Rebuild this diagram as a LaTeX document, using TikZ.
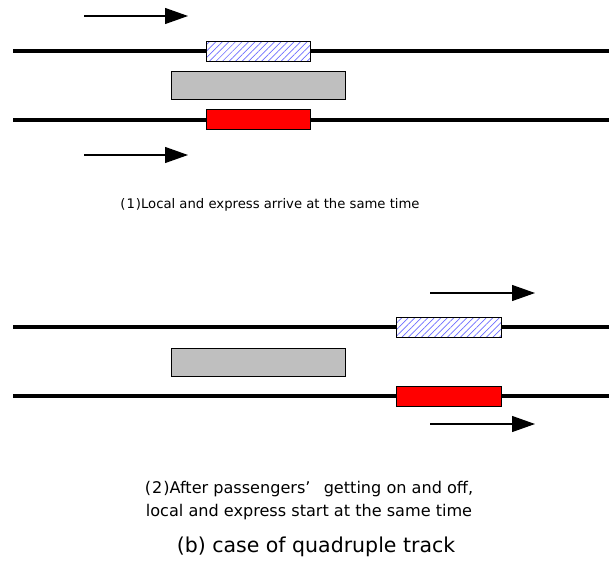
\documentclass[tikz,border=0pt]{standalone}
\usepackage{fontspec}
\setmainfont{DejaVu Sans}
\usetikzlibrary{arrows.meta,patterns.meta}
\definecolor{hatchblue}{RGB}{110,110,255}
\begin{document}
\begin{tikzpicture}[x=1pt,y=-1pt,
  track/.style={line width=4pt},
  move/.style={line width=1.2pt,-{Triangle[length=23pt,width=16pt]}},
  car/.style={draw, line width=1pt, minimum width=104pt, minimum height=20pt,
    inner sep=0pt, anchor=north west},
  localcar/.style={car, fill=white,
    pattern={Lines[angle=45, distance=4.6pt, line width=0.7pt]}, pattern color=hatchblue},
  expresscar/.style={car, fill=red},
  platform/.style={draw, line width=1pt, fill=gray!50, minimum width=174pt,
    minimum height=28pt, inner sep=0pt, anchor=north west},
  caption/.style={font=\fontsize{13.2}{23}\selectfont, align=center},
  bigcaption/.style={font=\fontsize{16.1}{23}\selectfont, align=center},
  title/.style={font=\fontsize{20.5}{24}\selectfont}]
\useasboundingbox (0,0) rectangle (609,583);

% ---- (1) arrival ----
\coordinate (t1w) at (13,51);  \coordinate (t1e) at (609,51);
\coordinate (t2w) at (13,120); \coordinate (t2e) at (609,120);
\draw[track] (t1w) -- (t1e);
\draw[track] (t2w) -- (t2e);
\fill[white] (206,41) rectangle (310,61);
\node[localcar] (loc1) at (206,41) {};
\node[platform] (pf1) at (171,71) {};
\node[expresscar] (exp1) at (206,109) {};
\coordinate (a1s) at (84,16);  \coordinate (a1e) at (188,16);
\coordinate (a2s) at (84,155); \coordinate (a2e) at (188,155);
\draw[move] (a1s) -- (a1e);
\draw[move] (a2s) -- (a2e);
\node[caption] (cap1) at (270,205) {(\kern1pt 1\kern1pt)Local and express arrive at the same time};

% ---- (2) departure ----
\coordinate (t3w) at (13,327); \coordinate (t3e) at (609,327);
\coordinate (t4w) at (13,396); \coordinate (t4e) at (609,396);
\draw[track] (t3w) -- (t3e);
\draw[track] (t4w) -- (t4e);
\fill[white] (396,317) rectangle (501,338);
\node[localcar, minimum width=105pt] (loc2) at (396,317) {};
\node[platform] (pf2) at (171,348) {};
\node[expresscar, minimum width=105pt] (exp2) at (396,386) {};
\coordinate (a3s) at (430,293); \coordinate (a3e) at (535,293);
\coordinate (a4s) at (430,424); \coordinate (a4e) at (535,424);
\draw[move] (a3s) -- (a3e);
\draw[move] (a4s) -- (a4e);
\node[bigcaption] (cap2) at (309,501) {(\kern1pt 2\kern1pt)After passengers’\hspace{0.5em} getting on and off,\\local and express start at the same time};

\node[title] (ttl) at (316,547) {(b) case of quadruple track};
\end{tikzpicture}
\end{document}
